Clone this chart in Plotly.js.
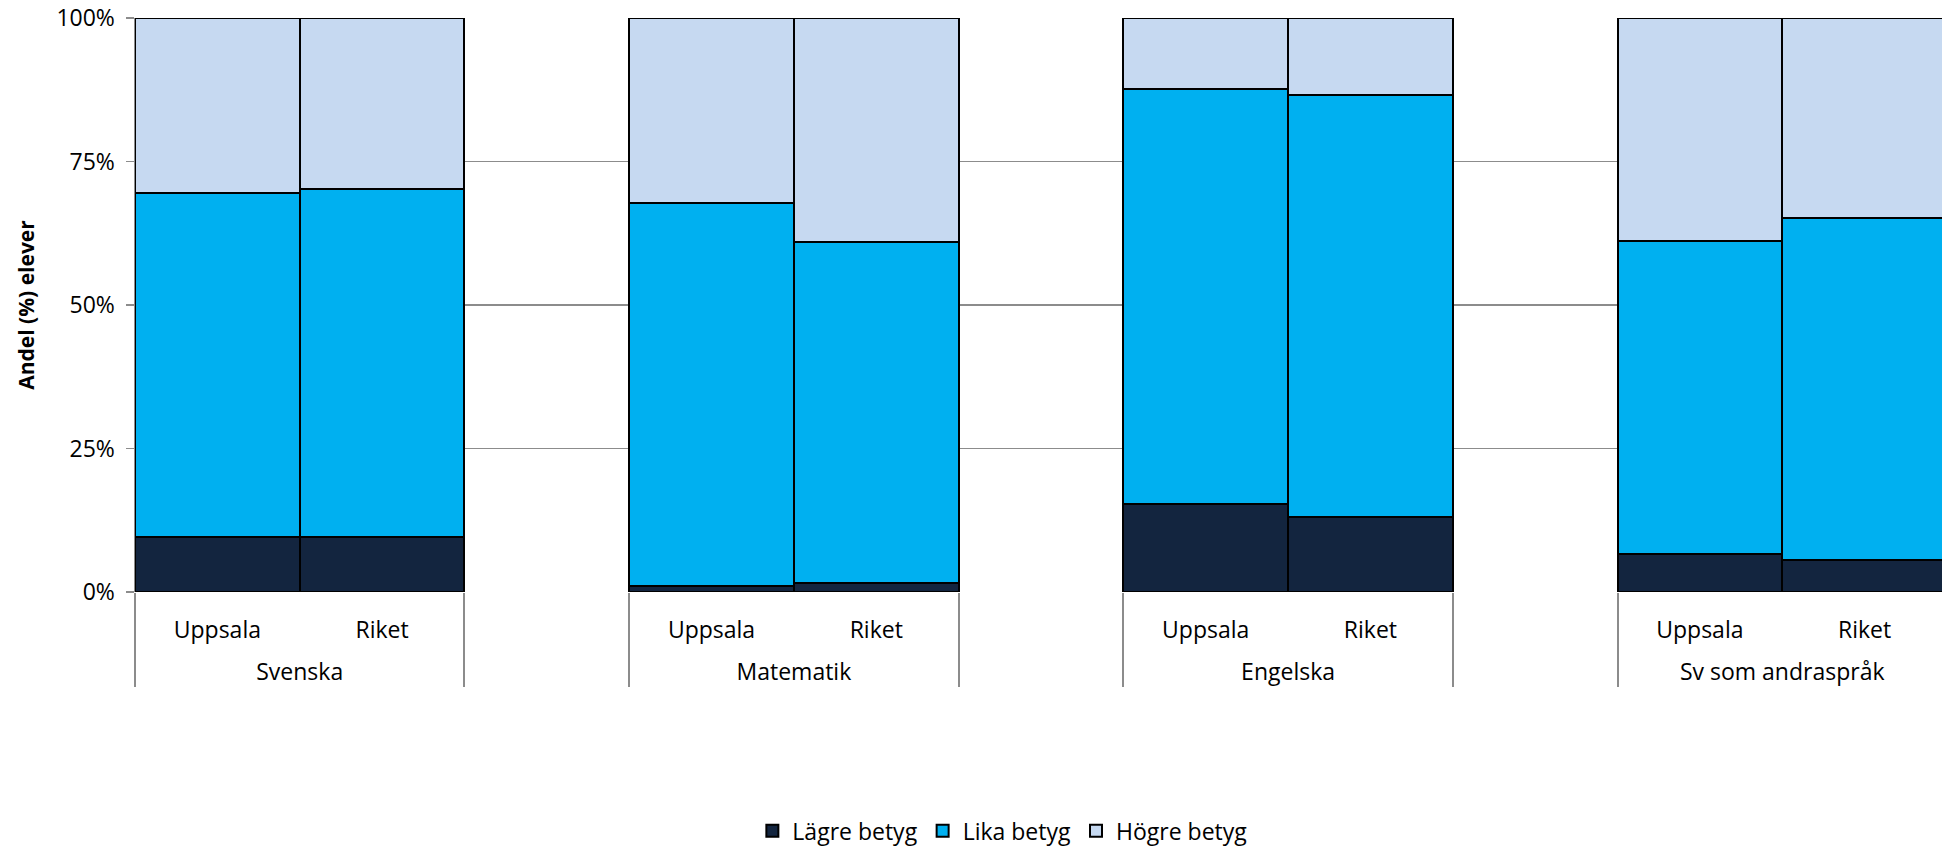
<!DOCTYPE html>
<html>
<head>
<meta charset="utf-8">
<script src="https://cdn.plot.ly/plotly-3.0.1.min.js"></script>
<style>html,body{margin:0;padding:0;background:#fff;}#chart{width:1942px;height:854px;}</style>
</head>
<body>
<div id="chart"></div>
<script>
// Data (percent of students)
const groups = ["Svenska", "Matematik", "Engelska", "Sv som andraspråk"];
const regions = ["Uppsala", "Riket"];
const seriesNames = ["Lägre betyg", "Lika betyg", "Högre betyg"];
const lagre = [9.6, 9.6, 1.1, 1.5, 15.3, 13.1, 6.6, 5.5];
const lika  = [59.9, 60.6, 66.7, 59.4, 72.3, 73.5, 54.5, 59.6];
const hogre = [30.5, 29.8, 32.2, 39.1, 12.4, 13.4, 38.9, 34.9];
const yTicks = [0, 25, 50, 75, 100];
const yTickText = ["0%", "25%", "50%", "75%", "100%"];
const colors = ["#13253F", "#00B0F0", "#C6D9F1"];

// Build multicategory x with an empty group between subject groups
const lvl1 = [], lvl2 = [], idx = [];
groups.forEach((g, gi) => {
  regions.forEach((r, ri) => { lvl1.push("<br>" + g); lvl2.push(r); idx.push(gi * regions.length + ri); });
  if (gi < groups.length - 1) { lvl1.push(" ".repeat(gi + 1)); lvl2.push(" "); idx.push(null); }
});
function yFor(arr) { return idx.map(i => i === null ? null : arr[i]); }

const data = [lagre, lika, hogre].map((arr, k) => ({
  type: "bar",
  name: seriesNames[k],
  x: [lvl1, lvl2],
  y: yFor(arr),
  marker: { color: colors[k], line: { color: "#000000", width: 2 } },
  hoverinfo: "skip"
}));

const font = "'Open Sans', 'Noto Sans', sans-serif";
const layout = {
  width: 1942, height: 854,
  margin: { l: 135, r: 0, t: 18, b: 262 },
  paper_bgcolor: "#ffffff", plot_bgcolor: "#ffffff",
  barmode: "stack", bargap: 0,
  showlegend: true,
  legend: {
    orientation: "h", x: 0.480, xanchor: "center",
    yref: "container", y: 0.002, yanchor: "bottom",
    traceorder: "normal", font: { family: font, size: 23, color: "#000" }
  },
  xaxis: {
    type: "multicategory",
    automargin: false,
    range: [-0.5, 10.47],
    showdividers: true, dividercolor: "#8c8c8c", dividerwidth: 2,
    ticks: "", showline: false, showgrid: false, zeroline: false,
    ticklabelstandoff: 22,
    tickfont: { family: font, size: 23, color: "#000" },
    fixedrange: true
  },
  yaxis: {
    automargin: false,
    range: [0, 100], tickvals: yTicks, ticktext: yTickText,
    ticks: "outside", ticklen: 8, tickwidth: 1.5, tickcolor: "#8c8c8c",
    ticklabelstandoff: 6,
    showline: true, linecolor: "#8c8c8c", linewidth: 1.5,
    showgrid: true, gridcolor: "#8c8c8c", gridwidth: 1.5,
    zeroline: false,
    tickfont: { family: font, size: 23, color: "#000" },
    title: { text: "Andel (%) elever", font: { family: font, size: 21, color: "#000", weight: "bold" }, standoff: 16 },
    fixedrange: true
  }
};

Plotly.newPlot("chart", data, layout, { staticPlot: true, displayModeBar: false });
</script>
</body>
</html>
